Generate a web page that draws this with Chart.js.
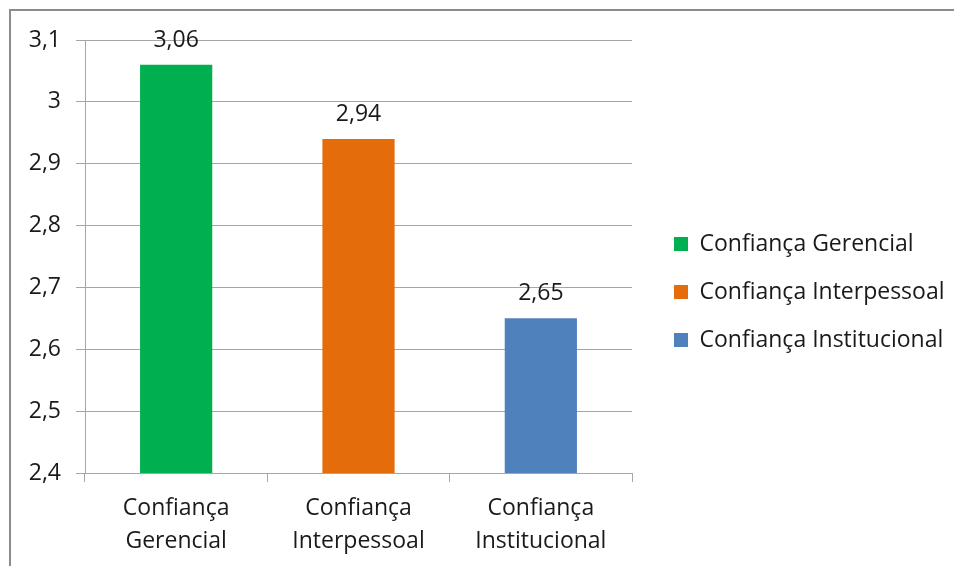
<!DOCTYPE html>
<html>
<head>
<meta charset="utf-8">
<script src="https://cdn.jsdelivr.net/npm/chart.js@4/dist/chart.umd.min.js"></script>
<style>
  html, body { margin: 0; padding: 0; background: #fff; }
  #wrap { width: 954px; height: 566px; position: relative; }
</style>
</head>
<body>
<div id="wrap"><canvas id="chart"></canvas></div>
<script>
// values
const categories = [['Confiança', 'Gerencial'], ['Confiança', 'Interpessoal'], ['Confiança', 'Institucional']];
const seriesNames = ['Confiança Gerencial', 'Confiança Interpessoal', 'Confiança Institucional'];
const seriesValues = [3.06, 2.94, 2.65];
const seriesColors = ['#00b050', '#e46c0a', '#4f81bd'];
const yMin = 2.4, yMax = 3.1, yStep = 0.1;

const textColor = '#1a1a1a';
const gridColor = '#a6a6a6';
const fontSize = 23;

Chart.defaults.font.family = '"Open Sans"';
Chart.defaults.font.size = fontSize;
Chart.defaults.color = textColor;

const comma = (v, d) => v.toFixed(d).replace('.', ',');

// one dataset per series, one slot per category (others null)
const datasets = seriesNames.map((name, i) => ({
  label: name,
  data: categories.map((_, j) => (j === i ? seriesValues[i] : null)),
  backgroundColor: seriesColors[i],
  borderWidth: 0,
  categoryPercentage: 0.8,
  barPercentage: 0.495,
}));

// outer frame like the Excel chart border
const framePlugin = {
  id: 'frame',
  beforeDraw(chart) {
    const ctx = chart.ctx;
    ctx.save();
    ctx.fillStyle = '#fff';
    ctx.fillRect(0, 0, chart.width, chart.height);
    ctx.strokeStyle = '#8c8c8c';
    ctx.lineWidth = 2;
    ctx.beginPath();
    ctx.moveTo(10, chart.height);
    ctx.lineTo(10, 10);
    ctx.lineTo(chart.width, 10);
    ctx.stroke();
    ctx.restore();
  },
};

// fixed legend width, then nudge the legend block
const legendFix = {
  id: 'legendFix',
  beforeLayout(chart) {
    const lg = chart.legend;
    if (lg && !lg._fixed) {
      const fit = lg.fit;
      lg.fit = function () { fit.call(this); this.width = 322; };
      lg._fixed = true;
    }
  },
  afterLayout(chart) {
    const lg = chart.legend;
    lg.left += 17; lg.right += 17;
    lg.top -= 11; lg.bottom -= 11;
  },
};

const valueLabels = {
  id: 'valueLabels',
  afterDatasetsDraw(chart) {
    const ctx = chart.ctx;
    ctx.save();
    ctx.font = `${fontSize}px "Open Sans"`;
    ctx.fillStyle = textColor;
    ctx.textAlign = 'center';
    ctx.textBaseline = 'alphabetic';
    chart.data.datasets.forEach((ds, i) => {
      chart.getDatasetMeta(i).data.forEach((bar, j) => {
        if (ds.data[j] == null) return;
        ctx.fillText(comma(ds.data[j], 2), bar.x, bar.y - 18);
      });
    });
    ctx.restore();
  },
};

new Chart(document.getElementById('chart'), {
  type: 'bar',
  data: { labels: categories, datasets },
  options: {
    responsive: true,
    maintainAspectRatio: false,
    animation: false,
    skipNull: true,
    layout: { padding: { left: 10, top: 40, right: 0, bottom: 0 } },
    scales: {
      x: {
        afterFit: s => { s.height = 93; },
        grid: { offset: true, drawOnChartArea: false, tickLength: 9, color: gridColor },
        border: { color: gridColor },
        ticks: { padding: 10, color: textColor, font: { size: fontSize, lineHeight: 1.43 } },
      },
      y: {
        min: yMin,
        max: yMax,
        afterFit: s => { s.width = 75; },
        grid: { color: gridColor, tickLength: 9 },
        border: { color: gridColor },
        ticks: {
          stepSize: yStep,
          padding: 15,
          color: textColor,
          callback: v => String(Math.round(v * 10) / 10).replace('.', ','),
        },
      },
    },
    plugins: {
      legend: {
        position: 'right',
        labels: { boxWidth: 14, boxHeight: 14, padding: 25, color: textColor, font: { size: fontSize } },
      },
      tooltip: { enabled: false },
    },
  },
  plugins: [framePlugin, legendFix, valueLabels],
});
</script>
</body>
</html>
